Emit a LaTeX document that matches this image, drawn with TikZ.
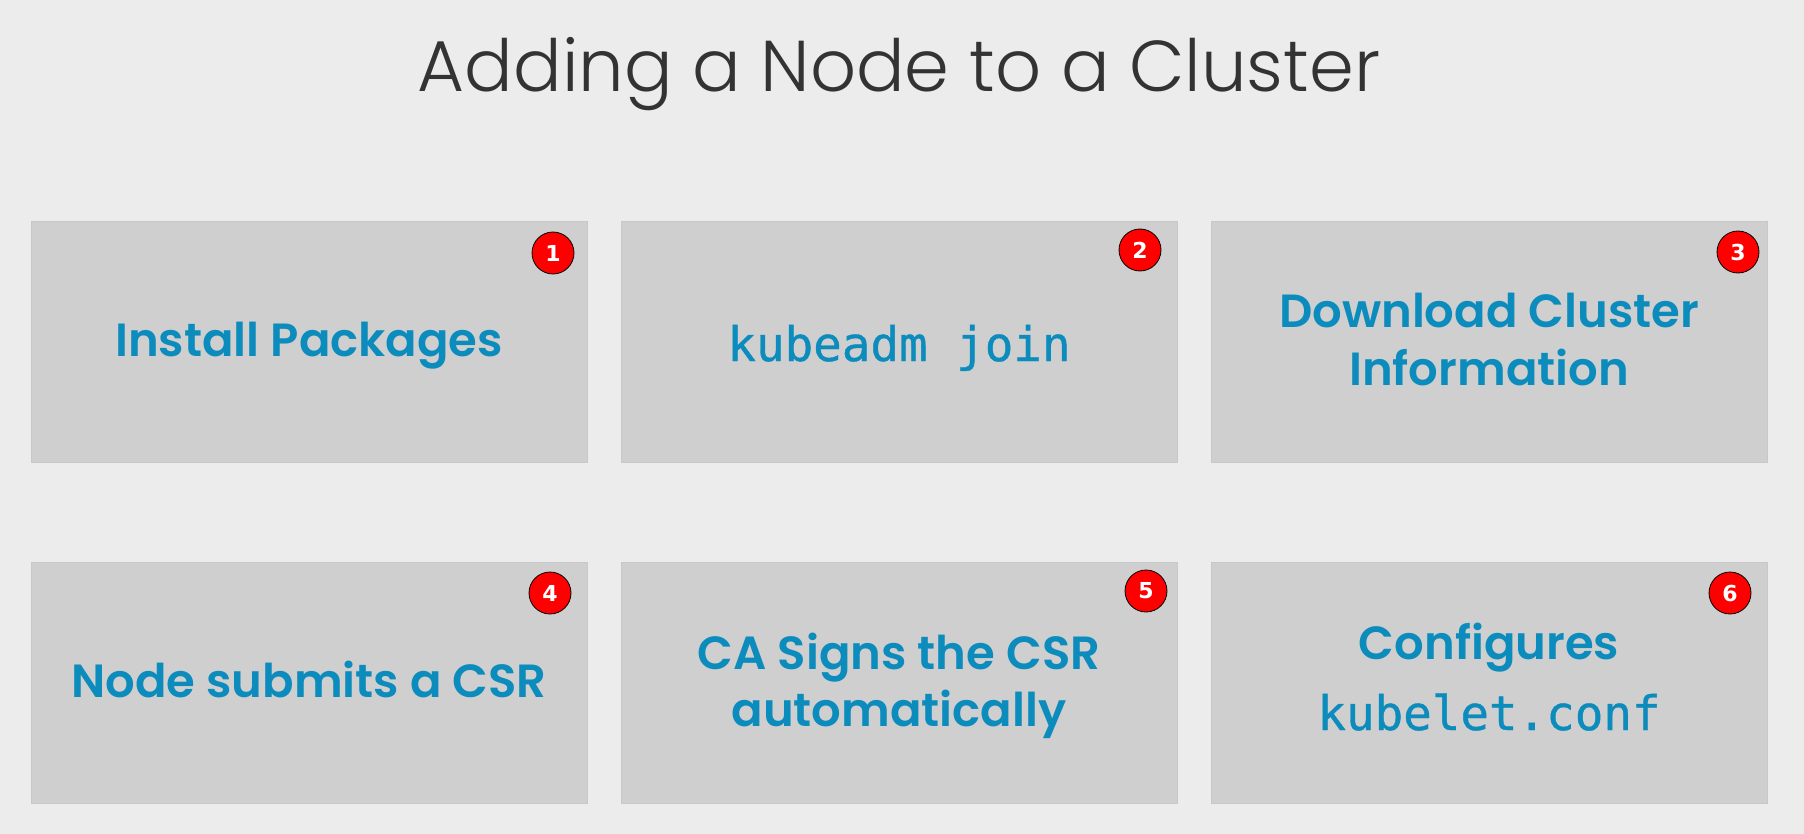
\documentclass[tikz,border=0pt]{standalone}
\usepackage{fontspec}
\IfFontExistsTF{Poppins Light}{\newfontfamily\titlefont{Poppins Light}}{\newfontfamily\titlefont{Poppins}}
\IfFontExistsTF{Poppins SemiBold}{\newfontfamily\boxfont{Poppins SemiBold}}{\IfFontExistsTF{Poppins Medium}{\newfontfamily\boxfont{Poppins Medium}}{\newfontfamily\boxfont{Poppins}[UprightFont=*-Bold]}}
\newfontfamily\monofont{DejaVu Sans Mono}[FakeBold=0.8]
\newfontfamily\badgefont{DejaVu Sans Bold}
\definecolor{bgcol}{RGB}{236,236,236}
\definecolor{boxcol}{RGB}{207,207,207}
\definecolor{boxedge}{RGB}{200,200,200}
\definecolor{txtblue}{RGB}{11,140,189}
\definecolor{titlecol}{RGB}{51,51,51}
\definecolor{badgered}{RGB}{255,0,0}
\tikzset{
  stepbox/.style={draw=boxedge, line width=1pt, fill=boxcol, minimum width=556pt, minimum height=241pt, inner sep=0pt, anchor=north west},
  boldtxt/.style={text=txtblue, font=\boxfont\fontsize{46.5}{58}\selectfont, anchor=base, inner sep=0pt},
  monotxt/.style={text=txtblue, font=\monofont\fontsize{47.5}{58}\selectfont, anchor=base, inner sep=0pt},
  badge/.style={circle, draw=black, line width=0.8pt, fill=badgered, minimum size=42pt, inner sep=0pt, text=white, font=\badgefont\fontsize{22}{22}\selectfont},
}
\begin{document}
\begin{tikzpicture}[x=1pt, y=-1pt]
\useasboundingbox (0,0) rectangle (1804,834);
\fill[bgcol] (0,0) rectangle (1804,834);
\node[text=titlecol, font=\titlefont\fontsize{72}{80}\selectfont, anchor=base, inner sep=0pt] (title) at (899,92) {Adding a Node to a Cluster};
% boxes
\node[stepbox] (b1) at (31,221) {};
\node[stepbox] (b2) at (621,221) {};
\node[stepbox] (b3) at (1211,221) {};
\node[stepbox] (b4) at (31,562) {};
\node[stepbox] (b5) at (621,562) {};
\node[stepbox] (b6) at (1211,562) {};
% texts
\node[boldtxt] (t1) at (309,356) {Install Packages};
\node[monotxt] (t2) at (899,361) {kubeadm join};
\node[boldtxt] (t3a) at (1489,327) {Download Cluster};
\node[boldtxt] (t3b) at (1489,385) {Information};
\node[boldtxt] (t4) at (309,697) {Node submits a CSR};
\node[boldtxt] (t5a) at (899,669) {CA Signs the CSR};
\node[boldtxt] (t5b) at (899,726) {automatically};
\node[boldtxt] (t6a) at (1489,659) {Configures};
\node[monotxt] (t6b) at (1489,730) {kubelet.conf};
% badges
\node[badge] (n1) at (553,253) {1};
\node[badge] (n2) at (1140,250) {2};
\node[badge] (n3) at (1738,252) {3};
\node[badge] (n4) at (550,593) {4};
\node[badge] (n5) at (1146,591) {5};
\node[badge] (n6) at (1730,593) {6};
\end{tikzpicture}
\end{document}
